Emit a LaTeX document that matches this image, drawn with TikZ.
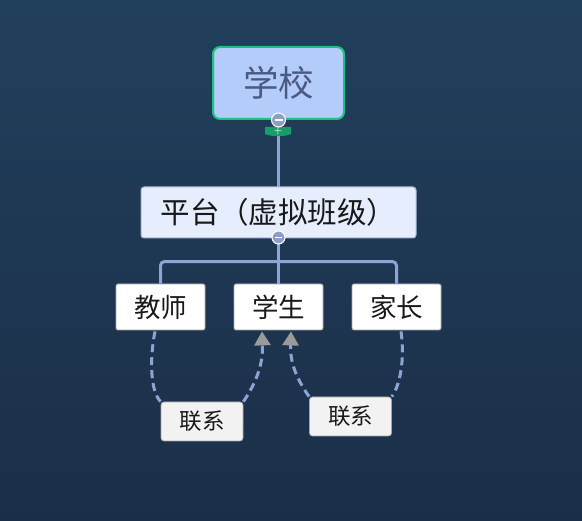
\documentclass[tikz,border=0pt]{standalone}
\usepackage{fontspec}
\newfontfamily\cjk{Noto Sans CJK SC}
\usetikzlibrary{calc,arrows.meta}
\definecolor{bgtop}{HTML}{21405C}
\definecolor{bgbot}{HTML}{1B2E48}
\definecolor{linec}{HTML}{8FA4D2}
\definecolor{schoolfill}{HTML}{B4CCFA}
\definecolor{schoolborder}{HTML}{1CC083}
\definecolor{schooltext}{HTML}{4A5A82}
\definecolor{platfill}{HTML}{E6EEFD}
\definecolor{platborder}{HTML}{A8B6DA}
\definecolor{tabgreen}{HTML}{169D6B}
\definecolor{arrowgrey}{HTML}{9A9A9A}
\tikzset{
  childbox/.style={draw=gray!70, fill=white, rounded corners=2pt, line width=0.8pt,
    minimum width=89pt, minimum height=46pt, inner sep=0pt, font=\cjk\fontsize{26.5}{28}\selectfont, text=black!90},
  labelbox/.style={draw=gray!70, fill=black!5, rounded corners=3pt, line width=0.8pt,
    minimum width=82pt, minimum height=39pt, inner sep=0pt, font=\cjk\fontsize{22.5}{24}\selectfont, text=black!90},
  tree/.style={draw=linec, line width=3pt},
  rel/.style={draw=linec, line width=3pt, dash pattern=on 8pt off 5pt},
  relarrow/.style={rel, -{Triangle[length=14pt,width=16pt,fill=arrowgrey,color=arrowgrey]}},
  collapse/.style={circle, draw=white, fill=linec!85!gray, line width=1pt, minimum size=14pt, inner sep=0pt}
}
\begin{document}
\begin{tikzpicture}[x=1pt,y=-1pt]
\shade[top color=bgtop, bottom color=bgbot] (0,0) rectangle (582,521);
\useasboundingbox (0,0) rectangle (582,521);

% tree lines
\draw[tree] (278,119) -- (278,187);
\node[draw=schoolborder, fill=schoolfill, line width=2pt, rounded corners=7pt,
  minimum width=131pt, minimum height=72pt, inner sep=0pt,
  font=\cjk\fontsize{35.5}{38}\selectfont, text=schooltext] (school) at (278.5,83) {学校};

\node[draw=platborder, fill=platfill, line width=1pt, rounded corners=3pt,
  minimum width=275pt, minimum height=51pt, inner sep=0pt,
  font=\cjk\fontsize{29.5}{31}\selectfont, text=black!90] (platform) at (278.5,212.5) {平台（虚拟班级）};

\node[childbox] (teacher) at (160.5,307) {教师};
\node[childbox] (student) at (278.5,307) {学生};
\node[childbox] (parent) at (396.5,307) {家长};

\draw[tree, rounded corners=4pt] (teacher.north) -- ++(0,-22) -| (parent.north);
\draw[tree] (platform.south) -- (student.north);

% collapse markers
\fill[tabgreen] (265,127) -- (291,127) -- (291,134) .. controls (284,137) and (272,137) .. (265,134) -- cycle;
\node[text=white, font=\bfseries\fontsize{9}{9}\selectfont, inner sep=0pt] (plus) at (278,131.5) {+};
\node[collapse] (c1) at (school.south) {};
\draw[white, line width=1.5pt] ($(c1)+(-4,0)$) -- ($(c1)+(4,0)$);
\node[collapse, minimum size=13pt] (c2) at ($(platform.south)+(0,-1)$) {};
\draw[white, line width=1.5pt] ($(c2)+(-3.5,0)$) -- ($(c2)+(3.5,0)$);

% labels
\node[labelbox] (l1) at (202,421.5) {联系};
\node[labelbox] (l2) at (350.5,416.5) {联系};

% relation curves
\draw[rel] ($(teacher.south)+(-5.5,1)$) .. controls (149,362) and (151,392) .. (l1.north west);
\draw[relarrow] (l1.north east) .. controls (258,380) and (263,362) .. ($(student.south)+(-16.5,1)$);
\draw[rel] ($(parent.south)+(4.5,1)$) .. controls (405,360) and (400,385) .. (l2.north east);
\draw[relarrow] (l2.north west) .. controls (296,378) and (290,362) .. ($(student.south)+(12.5,1)$);
\end{tikzpicture}
\end{document}
